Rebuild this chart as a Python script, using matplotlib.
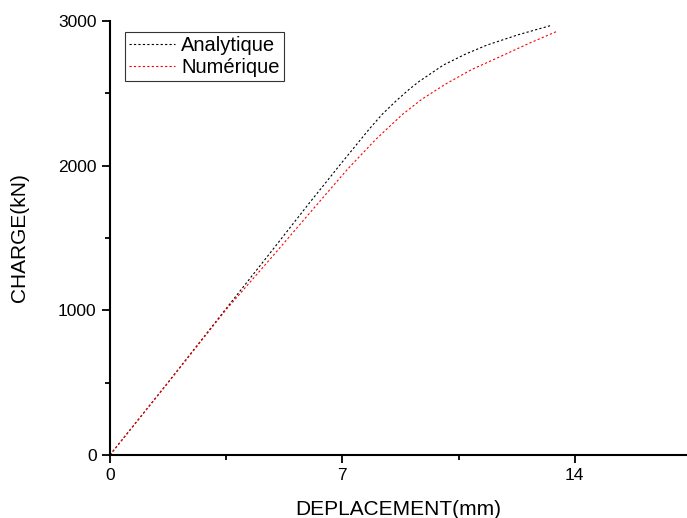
import matplotlib
matplotlib.use('Agg')
import matplotlib.pyplot as plt
from matplotlib.ticker import MultipleLocator

plt.rcParams['font.family'] = ['Liberation Sans', 'DejaVu Sans']

# deplacement (mm) / charge (kN)
x_ana = [0, 1.71, 3.5, 4.72, 6.0, 6.98, 7.8, 8.2, 8.63, 9.0, 9.3, 10.04, 10.7, 11.35, 12.3, 13.3]
y_ana = [0, 490, 1012, 1366, 1740, 2020, 2250, 2355, 2450, 2525, 2580, 2695, 2770, 2833, 2905, 2970]

x_num = [0, 1.71, 3.5, 4.87, 6.0, 7.15, 8.0, 8.81, 9.4, 10.14, 10.9, 11.75, 12.6, 13.45]
y_num = [0, 488, 1005, 1366, 1668, 1974, 2180, 2354, 2460, 2568, 2665, 2753, 2843, 2927]

fig = plt.figure(figsize=(6.87, 5.18), dpi=100)
ax = fig.add_axes([0.160, 0.1216, 0.8385, 0.8379])

ax.plot(x_ana, y_ana, color='black', linestyle=(0, (2, 2)), linewidth=0.8, label='Analytique')
ax.plot(x_num, y_num, color='red', linestyle=(0, (2, 2)), linewidth=0.8, label='Numérique')

ax.set_xlim(0, 17.35)
ax.set_ylim(0, 3000)
ax.xaxis.set_major_locator(MultipleLocator(7))
ax.xaxis.set_minor_locator(MultipleLocator(3.5))
ax.yaxis.set_major_locator(MultipleLocator(1000))
ax.yaxis.set_minor_locator(MultipleLocator(500))

for s in ['top', 'right']:
    ax.spines[s].set_visible(False)
for s in ['left', 'bottom']:
    ax.spines[s].set_linewidth(1.5)

ax.tick_params(which='major', direction='out', length=6, width=1.3, labelsize=12.5)
ax.tick_params(which='minor', direction='out', length=3.5, width=1.3)

ax.set_xlabel('DEPLACEMENT(mm)', fontsize=15, labelpad=12)
ax.set_ylabel('CHARGE(kN)', fontsize=15, labelpad=21)

leg = ax.legend(loc='upper left', bbox_to_anchor=(0.026, 0.975), borderaxespad=0,
                fontsize=14.5, frameon=True, fancybox=False, handlelength=2.3,
                handletextpad=0.3, borderpad=0.2, labelspacing=0.15)
leg.get_frame().set_edgecolor('black')
leg.get_frame().set_linewidth(0.8)

plt.savefig('out.png', dpi=100)
